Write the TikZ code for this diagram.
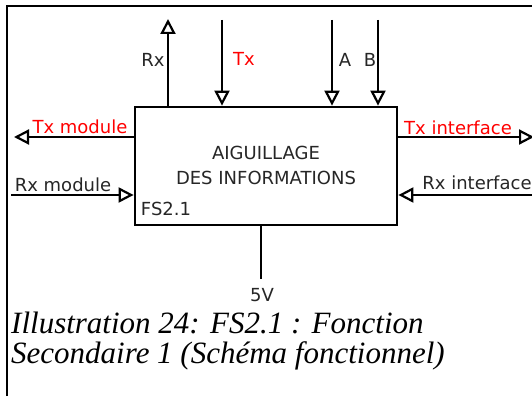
\documentclass[tikz,border=0pt]{standalone}
\usepackage{fontspec}
\setmainfont{Liberation Serif}
\newfontfamily\dv{DejaVu Sans}
\usetikzlibrary{arrows.meta}
\begin{document}
\begin{tikzpicture}[x=1pt,y=-1pt,
  lbl/.style={font=\dv\fontsize{18}{21}\selectfont, inner sep=0pt, text=black!85},
  redlbl/.style={lbl, text=red},
  arr/.style={line width=2.8pt, -{Triangle[open, length=15pt, width=15pt, line width=2.2pt]}},
  plain/.style={line width=2.8pt},
  frame/.style={line width=1.6pt},
  caption/.style={anchor=base west, inner sep=0pt, font=\itshape\fontsize{31}{30}\selectfont}]
\useasboundingbox (0,0) rectangle (532,396);
% frame
\coordinate (f0) at (7,396);
\coordinate (f1) at (7,6);
\coordinate (f2) at (532,6);
\draw[frame] (f0) -- (f1) -- (f2);
% main box
\node[draw, line width=2.8pt, minimum width=262pt, minimum height=118pt, inner sep=0pt] (fs) at (266,166) {};
\node[lbl] (t1) at (266,153) {AIGUILLAGE};
\node[lbl] (t2) at (266,178) {DES INFORMATIONS};
\node[lbl] (id) at (166,209) {FS2.1};
% top arrows
\coordinate (rxt) at (168,19);
\coordinate (txt) at (222,20);
\coordinate (at) at (332,20);
\coordinate (bt) at (378,20);
\draw[arr] (fs.north -| rxt) -- (rxt);
\draw[arr] (txt) -- (fs.north -| txt);
\draw[arr] (at) -- (fs.north -| at);
\draw[arr] (bt) -- (fs.north -| bt);
\node[lbl] (lrx) at (153,60) {Rx};
\node[redlbl] (ltx) at (244,59) {Tx};
\node[lbl] (la) at (345,60) {A};
\node[lbl] (lb) at (370,60) {B};
% left arrows
\coordinate (txm) at (14,137);
\coordinate (rxm) at (11,195);
\draw[arr] (fs.west |- txm) -- (txm);
\draw[arr] (rxm) -- (fs.west |- rxm);
\node[redlbl] (ltxm) at (80,127) {Tx module};
\node[lbl] (lrxm) at (63,185) {Rx module};
% right arrows
\coordinate (txi) at (534,137);
\coordinate (rxi) at (540,195);
\draw[arr] (fs.east |- txi) -- (txi);
\draw[arr] (rxi) -- (fs.east |- rxi);
\node[redlbl] (ltxi) at (458,128) {Tx interface};
\node[lbl] (lrxi) at (477,183) {Rx interface};
% 5V
\coordinate (v5) at (261,279);
\draw[plain] (fs.south -| v5) -- (v5);
\node[lbl] (l5v) at (262,295) {5V};
% caption
\node[caption] (cap1) at (11,333) {Illustration 24: FS2.1 : Fonction};
\node[caption] (cap2) at (11,363) {Secondaire 1 (Schéma fonctionnel)};
\end{tikzpicture}
\end{document}
